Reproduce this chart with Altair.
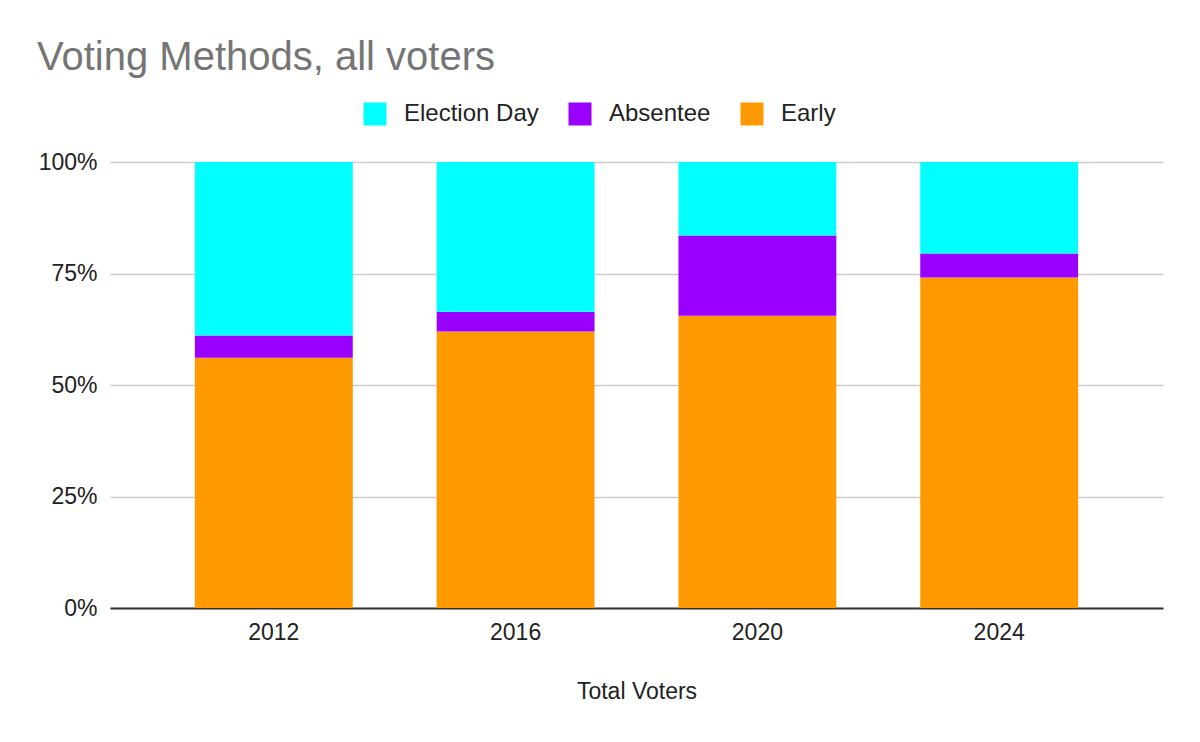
import altair as alt
import pandas as pd

# values (percent of all voters)
years = ["2012", "2016", "2020", "2024"]
methods = ["Election Day", "Absentee", "Early"]
early = [56.1, 62.0, 65.5, 74.1]
absentee = [5.0, 4.4, 18.0, 5.4]
election_day = [38.9, 33.6, 16.5, 20.5]

colors = ["#00ffff", "#9900ff", "#ff9900"]
font = "Liberation Sans"

rows = []
for i, year in enumerate(years):
    # stack position: 0 sits on the axis, 2 on top
    rows.append({"year": year, "method": "Early", "share": early[i], "stack": 0})
    rows.append({"year": year, "method": "Absentee", "share": absentee[i], "stack": 1})
    rows.append({"year": year, "method": "Election Day", "share": election_day[i], "stack": 2})
df = pd.DataFrame(rows)

chart = (
    alt.Chart(df)
    .mark_bar()
    .encode(
        x=alt.X(
            "year:N",
            title="Total Voters",
            scale=alt.Scale(paddingInner=0.347, paddingOuter=0.351),
            axis=alt.Axis(
                labelAngle=0,
                ticks=False,
                tickSize=0,
                labelPadding=13,
                titlePadding=36,
                domainColor="#333333",
                domainWidth=2,
                grid=False,
            ),
        ),
        y=alt.Y(
            "share:Q",
            stack="normalize",
            title=None,
            scale=alt.Scale(domain=[0, 1], nice=False),
            axis=alt.Axis(
                format=".0%",
                values=[0, 0.25, 0.5, 0.75, 1],
                domain=False,
                ticks=False,
                tickSize=0,
                labelPadding=13,
                gridColor="#cccccc",
                gridWidth=1.3,
            ),
        ),
        color=alt.Color(
            "method:N",
            scale=alt.Scale(domain=methods, range=colors),
            legend=alt.Legend(
                title=None,
                orient="none",
                direction="horizontal",
                legendX=253,
                legendY=-60,
                symbolType="square",
                symbolSize=529,
                symbolStrokeWidth=0,
                symbolOpacity=1,
                labelOffset=17,
                columnPadding=29,
                labelFontSize=24,
                labelFont=font,
                labelColor="#222222",
            ),
        ),
        order=alt.Order("stack:Q", sort="ascending"),
    )
    .properties(
        width=1053,
        height=446,
        title=alt.TitleParams(
            "Voting Methods, all voters",
            anchor="start",
            frame="group",
            dx=-73,
            offset=24,
            fontSize=40,
            fontWeight="normal",
            font=font,
            color="#757575",
        ),
        autosize=alt.AutoSizeParams(type="none"),
        padding={"left": 102, "top": 154, "right": 20, "bottom": 110},
        background="white",
    )
    .configure_axis(
        labelFont=font,
        labelFontSize=23,
        labelColor="#222222",
        titleFont=font,
        titleFontSize=23,
        titleFontWeight="normal",
        titleColor="#222222",
    )
    .configure_view(stroke=None)
)

chart.save("out.html", embed_options={"renderer": "svg", "actions": False})
